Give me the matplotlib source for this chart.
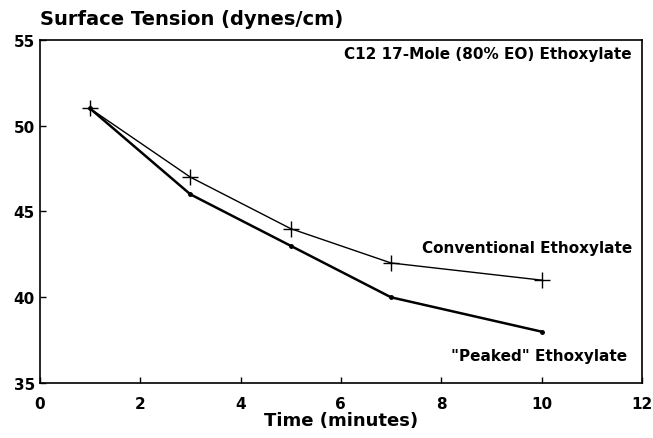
import matplotlib
matplotlib.use("Agg")
import matplotlib.pyplot as plt

# Данные
time_min = [1, 3, 5, 7, 10]
conventional = [51, 47, 44, 42, 41]
peaked = [51, 46, 43, 40, 38]

plt.rcParams['font.family'] = ['DejaVu Sans']
plt.rcParams['font.weight'] = 'bold'

fig = plt.figure(figsize=(6.53, 4.39), dpi=100)
ax = fig.add_axes([0.061, 0.125, 0.922, 0.782])

ax.plot(time_min, conventional, color="black", lw=1.0, marker="+", ms=11, mew=1.0)
ax.plot(time_min, peaked, color="black", lw=1.8, marker="o", ms=2.5)

ax.set_xlim(0, 12)
ax.set_ylim(35, 55)
ax.set_xticks(range(0, 13, 2))
ax.set_yticks(range(35, 56, 5))
ax.tick_params(direction="in", length=4, width=1, labelsize=11)
ax.tick_params(axis="x", pad=9)
for lab in ax.get_xticklabels() + ax.get_yticklabels():
    lab.set_fontweight("bold")
for s in ax.spines.values():
    s.set_linewidth(1.2)

ax.set_xlabel("Time (minutes)", fontsize=13, fontweight="bold", labelpad=0)
fig.text(0.061, 0.935, "Surface Tension (dynes/cm)", fontsize=14, fontweight="bold",
         ha="left", va="bottom")

ax.text(11.8, 54.2, "C12 17-Mole (80% EO) Ethoxylate", fontsize=11, fontweight="bold",
        ha="right", va="center")
ax.text(11.8, 42.9, "Conventional Ethoxylate", fontsize=11, fontweight="bold",
        ha="right", va="center")
ax.text(11.7, 36.6, "\"Peaked\" Ethoxylate", fontsize=11, fontweight="bold",
        ha="right", va="center")

fig.savefig("out.png", dpi=100)
